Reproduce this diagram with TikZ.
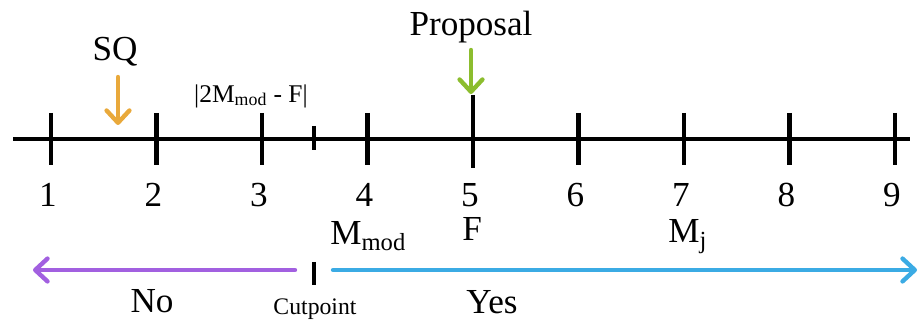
\documentclass[tikz,border=0pt]{standalone}
\usepackage{fontspec}
\setmainfont{Liberation Serif}
\usepackage{xcolor}
\usepackage{tikz}
\usetikzlibrary{positioning,arrows.meta}

\definecolor{sqorange}{HTML}{E9A93B}
\definecolor{propgreen}{HTML}{8CBD2E}
\definecolor{nopurple}{HTML}{A260E0}
\definecolor{yesblue}{HTML}{3BABE4}

\begin{document}
\begin{tikzpicture}[x=0.02cm, y=-0.02cm, ticknode/.style={line width=2.3pt}, pointer/.style={-{Straight Barb[round,length=7pt,width=13pt]}, line width=2.5pt, line cap=round}, biglabel/.style={font=\fontsize{20}{24}\selectfont, inner sep=0pt}, smalllabel/.style={font=\fontsize{13.5}{16}\selectfont, inner sep=0pt}]

\useasboundingbox (0,0) rectangle (922,320);

%Axis
\coordinate (axleft) at (13,139);
\coordinate (axright) at (910,139);
\draw[ticknode] (axleft) -- (axright);
\foreach \i in {1,...,9}{
  \coordinate (t\i) at ({51+105.5*(\i-1)},139);
  \draw[ticknode] (t\i) ++(0,-26) -- ++(0,52);
  \node[biglabel] (n\i) at ({48+105.5*(\i-1)},195) {\i};
}
\draw[ticknode] (t5) ++(0,-44) -- ++(0,73); % proposal tick
\coordinate (half) at (314,139);
\draw[ticknode] (half) ++(0,-13) -- ++(0,24);

%Nodes
\node[biglabel]                  (sq)    at (115,52)  {SQ};
\node[biglabel]                  (prop)  at (471,27)  {Proposal};
\node[smalllabel, font=\fontsize{14.5}{17}\selectfont] (dist) at (251,96) {|2M\textsubscript{mod} - F|};
\node[biglabel, anchor=base west] (mmod) at (330,245) {M\textsubscript{mod}};
\node[biglabel, anchor=base west] (f)    at (462,241) {F};
\node[biglabel, anchor=base west] (mj)   at (668,243) {M\textsubscript{j}};
\node[biglabel]                  (no)    at (152,301) {No};
\node[biglabel]                  (yes)   at (492,302) {Yes};
\node[smalllabel]                (cutp)  at (315,309) {Cutpoint};

\coordinate (cut) at (314,273);
\coordinate (sqtail) at (118,77);
\coordinate (sqtip) at (118,125);
\coordinate (proptail) at (471,50);
\coordinate (proptip) at (471,94);
\coordinate (nostart) at (295,270);
\coordinate (noend) at (33,270);
\coordinate (yesstart) at (333,270);
\coordinate (yesend) at (917,270);

%Lines
\draw[pointer, sqorange] (sqtail) -- (sqtip);
\draw[pointer, propgreen] (proptail) -- (proptip);
\draw[ticknode] (cut) ++(0,-11) -- ++(0,23);
\draw[pointer, nopurple] (nostart) -- (noend);
\draw[pointer, yesblue] (yesstart) -- (yesend);

\end{tikzpicture}
\end{document}
